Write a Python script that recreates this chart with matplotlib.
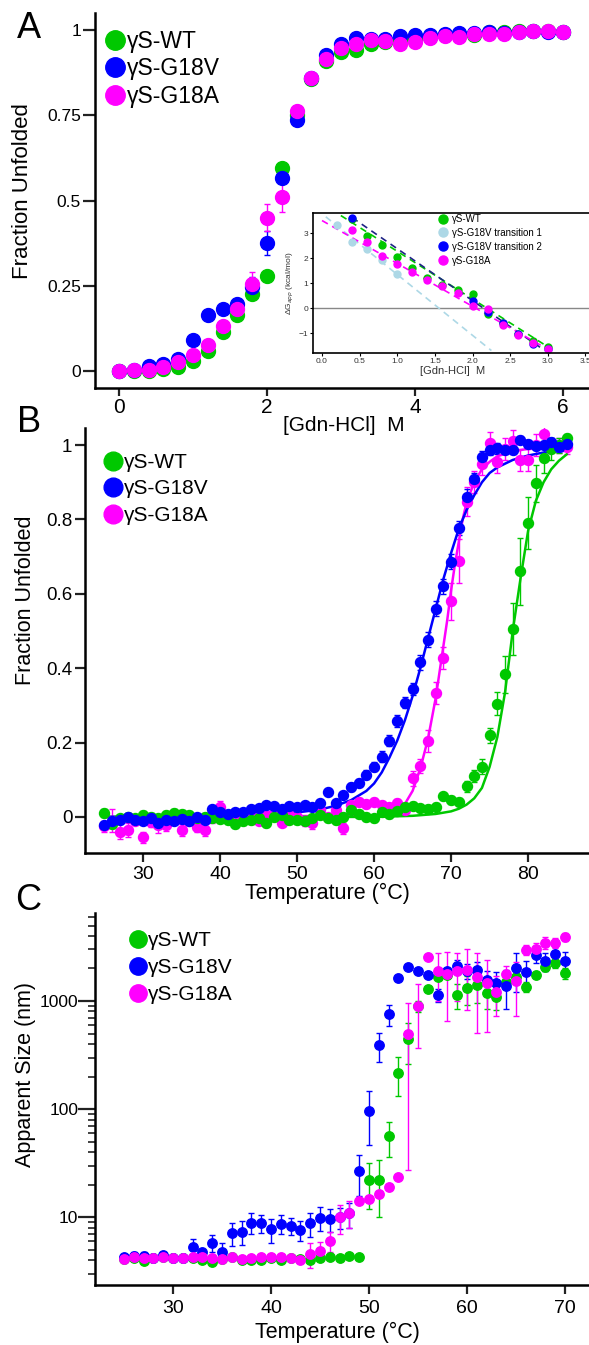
import matplotlib
matplotlib.use("Agg")
from matplotlib import pyplot as plt
from matplotlib.lines import Line2D
from matplotlib.ticker import FixedLocator, LogLocator, NullFormatter

plt.rcParams['font.family'] = ['Liberation Sans', 'DejaVu Sans']

GREEN = '#00c800'
BLUE = '#0000ff'
MAGENTA = '#ff00ff'
LIGHTBLUE = '#add8e6'
NAVY = '#1e2385'

labels = ['γS-WT', 'γS-G18V', 'γS-G18A']

# ---------------- panel A: chemical denaturation ----------------
gdn = [round(0.2 * i, 1) for i in range(31)]
a_wt = [0, 0, 0.0, 0.007, 0.012, 0.03, 0.06, 0.115, 0.164, 0.226, 0.28, 0.594, 0.75, 0.857,
        0.908, 0.936, 0.941, 0.96, 0.966, 0.97, 0.975, 0.98, 0.985, 0.985, 0.987, 0.993,
        0.995, 0.997, 0.998, 0.998, 0.995]
a_v = [0, 0.002, 0.014, 0.02, 0.036, 0.092, 0.164, 0.181, 0.196, 0.246, 0.376, 0.567, 0.737,
       0.86, 0.926, 0.958, 0.977, 0.975, 0.973, 0.982, 0.987, 0.985, 0.99, 0.992, 0.992,
       0.993, 0.992, 0.995, 0.996, 0.995, 0.993]
a_a = [0, 0.002, 0.004, 0.012, 0.027, 0.046, 0.076, 0.132, 0.181, 0.256, 0.45, 0.511, 0.764,
       0.86, 0.916, 0.946, 0.958, 0.97, 0.967, 0.96, 0.964, 0.977, 0.983, 0.98, 0.99, 0.99,
       0.99, 0.995, 0.998, 0.998, 0.995]
a_v_err = [0] * 9 + [0.03, 0.035] + [0] * 20
a_a_err = [0] * 9 + [0.035, 0.04, 0.045] + [0] * 19

# inset: apparent dG vs [Gdn-HCl]
in_wt_x = [0.4, 0.6, 0.8, 1.0, 1.2, 1.4, 1.6, 1.8, 2.0, 2.2, 2.4, 2.6, 2.8, 3.0]
in_wt = [3.57, 2.88, 2.51, 2.05, 1.59, 1.19, 0.92, 0.73, 0.55, -0.22, -0.59, -1.03, -1.32, -1.55]
in_t1_x = [0.2, 0.4, 0.6, 0.8, 1.0]
in_t1 = [3.34, 2.64, 2.38, 1.92, 1.36]
in_t2_x = [0.4, 2.0, 2.2, 2.4, 2.6, 2.8, 3.0]
in_t2 = [3.6, 0.3, -0.16, -0.59, -1.05, -1.43, -1.62]
in_a_x = [0.4, 0.6, 0.8, 1.0, 1.2, 1.4, 1.6, 1.8, 2.0, 2.2, 2.4, 2.6, 2.8, 3.0]
in_a = [3.14, 2.64, 2.07, 1.76, 1.45, 1.12, 0.89, 0.6, 0.1, -0.04, -0.66, -1.06, -1.41, -1.62]
# dashed linear fits (end points)
fit_t1_x, fit_t1 = [0.05, 2.25], [3.65, -1.7]
fit_wt_x, fit_wt = [0.25, 3.0], [3.7, -1.55]
fit_t2_x, fit_t2 = [0.4, 2.95], [3.62, -1.68]
fit_a_x, fit_a = [0.0, 3.0], [3.5, -1.65]

# ---------------- panel B: thermal denaturation ----------------
temp_b = list(range(25, 86))
b_wt = [0.01, -0.02, -0.004, 0.0, -0.004, 0.005, 0.0, -0.004, 0.005, 0.01, 0.008, 0.005, -0.004,
        0.0, -0.004, -0.006, -0.008, -0.019, -0.012, -0.008, -0.004, -0.016, 0.0, 0.005, -0.008,
        -0.008, -0.01, -0.004, 0.005, -0.004, -0.008, 0.0, 0.019, 0.008, 0.0, -0.004, 0.014,
        0.007, 0.017, 0.028, 0.03, 0.023, 0.021, 0.028, 0.055, 0.046, 0.041, 0.082, 0.11, 0.135,
        0.22, 0.305, 0.384, 0.505, 0.661, 0.79, 0.897, 0.965, 0.99, 1.0, 1.02]
b_v = [-0.021, -0.01, -0.008, 0.001, -0.008, -0.01, -0.004, -0.017, -0.008, -0.01, -0.006,
       -0.012, 0.001, -0.008, 0.021, 0.014, 0.008, 0.012, 0.012, 0.021, 0.023, 0.032, 0.03,
       0.021, 0.03, 0.028, 0.032, 0.028, 0.037, 0.068, 0.038, 0.059, 0.081, 0.092, 0.113, 0.135,
       0.162, 0.205, 0.258, 0.307, 0.344, 0.416, 0.476, 0.56, 0.62, 0.686, 0.777, 0.861, 0.91,
       0.969, 0.987, 0.991, 0.988, 0.987, 1.015, 1.004, 0.997, 1.0, 1.009, 0.996, 1.004]
b_a = [-0.025, -0.01, -0.04, -0.035, -0.01, -0.055, -0.013, -0.022, -0.023, -0.008, -0.035,
       -0.01, -0.026, -0.035, 0.0, 0.028, 0.0, -0.005, 0.005, 0.01, -0.01, 0.005, 0.01, -0.015,
       0.005, 0.0, -0.01, -0.017, 0.019, 0.0, 0.019, -0.03, 0.032, 0.041, 0.035, 0.041, 0.032,
       0.028, 0.037, 0.019, 0.104, 0.137, 0.205, 0.334, 0.427, 0.58, 0.688, 0.848, 0.9, 0.95,
       1.005, 0.955, 0.99, 1.01, 0.96, 0.96, 1.0, 1.03, 1.0, 1.0, 0.996]
b_wt_err = [0.01] * 47 + [0.015, 0.015, 0.02, 0.02, 0.03, 0.05, 0.07, 0.09, 0.07, 0.05, 0.04,
                          0.03, 0.02, 0.01]
b_v_err = [0.008] * 32 + [0.01, 0.01, 0.012, 0.012, 0.015, 0.015, 0.015, 0.015, 0.015, 0.02,
                          0.02, 0.02, 0.02, 0.02, 0.02, 0.02, 0.015, 0.015, 0.015, 0.015, 0.01,
                          0.01, 0.01, 0.01, 0.01, 0.01, 0.01, 0.01, 0.01]
b_a_err = [0.015, 0.03, 0.02, 0.02, 0.01, 0.015, 0.015, 0.02, 0.015, 0.01, 0.015, 0.01, 0.015,
           0.015, 0.015, 0.015, 0.01, 0.01, 0.01, 0.01, 0.01, 0.01, 0.01, 0.01, 0.01, 0.01, 0.015,
           0.015, 0.01, 0.01, 0.01, 0.015, 0.01, 0.01, 0.01, 0.01, 0.01, 0.01, 0.01, 0.01, 0.02,
           0.02, 0.03, 0.03, 0.03, 0.05, 0.06, 0.04, 0.03, 0.03, 0.03, 0.03, 0.03, 0.03, 0.03,
           0.03, 0.03, 0.03, 0.02, 0.02, 0.02]
# fitted curves
fit_b_v_t = [25, 40, 45, 50, 53, 55, 57, 59, 60, 61, 62, 63, 64, 65, 66, 67, 68, 69, 70, 71,
             72, 73, 74, 75, 76, 78, 80, 82, 85]
fit_b_v = [0.0, 0.002, 0.005, 0.012, 0.02, 0.03, 0.045, 0.07, 0.09, 0.12, 0.16, 0.205, 0.26,
           0.325, 0.4, 0.48, 0.56, 0.64, 0.71, 0.775, 0.825, 0.865, 0.9, 0.925, 0.94, 0.96,
           0.972, 0.98, 0.985]
fit_b_a_t = [25, 55, 60, 62, 63, 64, 65, 66, 67, 68, 68.5, 69, 69.5, 70, 70.5, 71, 71.5, 72,
             73, 74, 75, 76, 78, 80, 82, 85]
fit_b_a = [0.0, 0.0, 0.004, 0.01, 0.018, 0.035, 0.07, 0.13, 0.21, 0.32, 0.39, 0.46, 0.53, 0.61,
           0.68, 0.74, 0.8, 0.845, 0.9, 0.935, 0.955, 0.97, 0.983, 0.99, 0.994, 0.997]
fit_b_wt_t = [25, 60, 65, 68, 70, 71, 72, 73, 74, 75, 76, 77, 78, 79, 80, 81, 82, 83, 84, 85]
fit_b_wt = [0.0, 0.0, 0.003, 0.008, 0.015, 0.022, 0.033, 0.05, 0.078, 0.135, 0.215, 0.335,
            0.5, 0.64, 0.77, 0.85, 0.9, 0.935, 0.958, 0.975]

# ---------------- panel C: DLS apparent size ----------------
temp_c = list(range(25, 71))
c_wt = [4.1, 4.2, 3.9, 4.2, 4.3, 4.2, 4.2, 4.2, 4.0, 3.8, 4.1, 4.3, 4.0, 4.0, 4.0, 4.2, 4.0,
        4.2, 4.1, 4.0, 4.2, 4.3, 4.2, 4.4, 4.3, 22, 22, 56, 216, 442, 890, 1290, 1660, 1750,
        1140, 1310, 1400, 1190, 1080, 1500, 1680, 1360, 1740, 2050, 2240, 1800]
c_v = [4.3, 4.4, 4.4, 4.2, 4.5, 4.2, 4.2, 5.3, 4.7, 5.8, 4.8, 7.1, 7.3, 8.9, 8.8, 7.7, 8.7,
       8.3, 7.6, 8.8, 9.9, 9.6, 10.0, 10.8, 26.6, 96, 390, 756, 1640, 2050, 1880, 1740, 1130,
       1900, 2110, 1900, 1940, 1580, 1465, 1390, 2010, 1870, 2640, 2330, 2740, 2330]
c_a = [4.1, 4.3, 4.2, 4.2, 4.3, 4.2, 4.2, 4.3, 4.3, 4.2, 4.1, 4.3, 4.1, 4.2, 4.3, 4.3, 4.3,
       4.2, 4.0, 4.6, 4.9, 6.0, 10, 11, 14.2, 14.8, 16.5, 19, 23.3, 497, 908, 2546, 1897, 1760,
       1897, 1925, 1660, 1465, 1220, 1790, 1520, 2990, 3060, 3470, 3470, 3950]
c_wt_err = [0.2] * 25 + [10, 12, 20, 85, 180, 100, 0, 0, 0, 300, 400, 450, 350, 250, 0, 200,
                         150, 0, 150, 200, 200]
c_v_err = [0.3] * 7 + [1, 0, 1, 1, 1.7, 1.8, 2, 1.7, 1.9, 1.7, 1.5, 1.6, 2.2, 2.5, 2.3, 2.2,
                       2.8, 11, 50, 120, 170, 0, 0, 0, 0, 150, 0, 300, 300, 350, 300, 400, 550,
                       800, 500, 400, 450, 400, 500]
c_a_err = [0.2] * 19 + [1.2, 1.0, 1.2, 3, 3, 1, 1, 0, 0, 0, 470, 540, 0, 900, 1100, 900, 1100,
                        1150, 950, 500, 300, 800, 300, 400, 450, 400, 350]

fig = plt.figure(figsize=(5.89, 13.45), dpi=100)


def style_axes(ax):
    ax.patch.set_visible(False)
    for s in ['top', 'right']:
        ax.spines[s].set_visible(False)
    for s in ['left', 'bottom']:
        ax.spines[s].set_linewidth(1.8)
    ax.tick_params(which='both', direction='out', width=1.6, color='#222222')


def add_legend(ax, x, y, fs, ms, hl, sp):
    handles = [Line2D([], [], marker='o', ls='none', color=c, markersize=ms)
               for c in (GREEN, BLUE, MAGENTA)]
    ax.legend(handles, labels, loc='upper left', bbox_to_anchor=(x, y),
              bbox_transform=fig.transFigure, frameon=False, fontsize=fs,
              handlelength=hl, handletextpad=0.05, borderpad=0, borderaxespad=0,
              labelspacing=sp)


# ---- A
axA = fig.add_axes([0.1613, 0.7115, 0.8387, 0.2788])
style_axes(axA)
for y, e, c in [(a_wt, None, GREEN), (a_v, a_v_err, BLUE), (a_a, a_a_err, MAGENTA)]:
    axA.errorbar(gdn, y, yerr=e, fmt='o', color=c, markersize=10, elinewidth=1,
                 capsize=2, capthick=1, clip_on=False)
axA.set_xlim(-0.324, 6.35)
axA.set_ylim(-0.05, 1.05)
axA.set_xticks([0, 2, 4, 6])
axA.set_yticks([0, 0.25, 0.5, 0.75, 1])
axA.set_yticklabels(['0', '0.25', '0.5', '0.75', '1'])
axA.tick_params(axis='y', length=9, labelsize=12.5, pad=1)
axA.tick_params(axis='x', length=6, labelsize=15, pad=1)
axA.set_ylabel('Fraction Unfolded', fontsize=16)
axA.yaxis.set_label_coords(-0.126, 0.525)
axA.set_xlabel('[Gdn-HCl]  M', fontsize=15)
axA.xaxis.set_label_coords(0.504, -0.075)
add_legend(axA, 0.178, 0.978, 16.5, 14, 0.9, 0.2)
fig.text(0.049, 1 - 29 / 1345, 'A', fontsize=26, ha='center', va='center')

# ---- inset
axI = fig.add_axes([0.5314, 0.7375, 0.4754, 0.1041])
axI.set_facecolor('white')
for s in axI.spines.values():
    s.set_linewidth(1.2)
axI.axhline(0, color='#888888', lw=1, zorder=1)
axI.plot(fit_t1_x, fit_t1, ls=(0, (4, 3)), color=LIGHTBLUE, lw=1.2)
axI.plot(fit_wt_x, fit_wt, ls=(0, (4, 3)), color=GREEN, lw=1.2)
axI.plot(fit_t2_x, fit_t2, ls=(0, (4, 3)), color=NAVY, lw=1.2)
axI.plot(fit_a_x, fit_a, ls=(0, (4, 3)), color=MAGENTA, lw=1.2)
axI.plot(in_wt_x, in_wt, 'o', color=GREEN, markersize=5, label='γS-WT')
axI.plot(in_t1_x, in_t1, 'o', color=LIGHTBLUE, markersize=5, label='γS-G18V transition 1')
axI.plot(in_t2_x, in_t2, 'o', color=BLUE, markersize=5, label='γS-G18V transition 2')
axI.plot(in_a_x, in_a, 'o', color=MAGENTA, markersize=5, label='γS-G18A')
axI.set_xlim(-0.12, 3.6)
axI.set_ylim(-1.8, 3.8)
axI.set_xticks([0, 0.5, 1, 1.5, 2, 2.5, 3, 3.5])
axI.set_xticklabels(['0.0', '0.5', '1.0', '1.5', '2.0', '2.5', '3.0', '3.5'])
axI.set_yticks([-1, 0, 1, 2, 3])
axI.set_yticklabels(['−1', '0', '1', '2', '3'])
axI.tick_params(labelsize=6, length=2, width=0.8, pad=1.5, labelcolor='#333333')
axI.set_xlabel('[Gdn-HCl]  M', fontsize=8, labelpad=1, color='#333333')
axI.set_ylabel('ΔG$_{app}$ (kcal/mol)', fontsize=6, labelpad=2, color='#333333')
axI.legend(loc='upper left', bbox_to_anchor=(0.7445, 0.8409), bbox_transform=fig.transFigure,
           frameon=False, fontsize=7, markerscale=1.3, handlelength=1.0, handletextpad=0.35,
           borderpad=0, borderaxespad=0, labelspacing=0.4)

# ---- B
axB = fig.add_axes([0.1443, 0.3658, 0.8557, 0.316])
style_axes(axB)
axB.errorbar(temp_b, b_a, yerr=b_a_err, fmt='o', color=MAGENTA, markersize=7.2, elinewidth=1,
             capsize=2.2, capthick=1)
axB.errorbar(temp_b, b_wt, yerr=b_wt_err, fmt='o', color=GREEN, markersize=7.2, elinewidth=1,
             capsize=2.2, capthick=1)
axB.errorbar(temp_b, b_v, yerr=b_v_err, fmt='o', color=BLUE, markersize=7.2, elinewidth=1,
             capsize=2.2, capthick=1)
axB.plot(fit_b_a_t, fit_b_a, color=MAGENTA, lw=1.8)
axB.plot(fit_b_wt_t, fit_b_wt, color=GREEN, lw=1.8)
axB.plot(fit_b_v_t, fit_b_v, color=BLUE, lw=1.8)
axB.set_xlim(22.47, 87.9)
axB.set_ylim(-0.097, 1.046)
axB.set_xticks([30, 40, 50, 60, 70, 80])
axB.set_yticks([0, 0.2, 0.4, 0.6, 0.8, 1])
axB.set_yticklabels(['0', '0.2', '0.4', '0.6', '0.8', '1'])
axB.tick_params(axis='y', length=7, labelsize=13.5, pad=2)
axB.tick_params(axis='x', length=6.5, labelsize=14, pad=3)
axB.set_ylabel('Fraction Unfolded', fontsize=15.5)
axB.yaxis.set_label_coords(-0.097, 0.595)
axB.set_xlabel('Temperature (°C)', fontsize=15.5)
axB.xaxis.set_label_coords(0.482, -0.07)
add_legend(axB, 0.1757, 0.6632, 15, 13.5, 0.92, 0.36)
fig.text(0.049, 1 - 423 / 1345, 'B', fontsize=26, ha='center', va='center')

# ---- C
axC = fig.add_axes([0.1613, 0.0446, 0.8387, 0.2766])
style_axes(axC)
axC.set_yscale('log')
axC.errorbar(temp_c, c_wt, yerr=c_wt_err, fmt='o', color=GREEN, markersize=6.8, elinewidth=1,
             capsize=2.2, capthick=1)
axC.errorbar(temp_c, c_v, yerr=c_v_err, fmt='o', color=BLUE, markersize=6.8, elinewidth=1,
             capsize=2.2, capthick=1)
axC.errorbar(temp_c, c_a, yerr=c_a_err, fmt='o', color=MAGENTA, markersize=6.8, elinewidth=1,
             capsize=2.2, capthick=1)
axC.set_xlim(22.04, 72.45)
axC.set_ylim(2.35, 6530)
axC.set_xticks([30, 40, 50, 60, 70])
axC.yaxis.set_major_locator(FixedLocator([10, 100, 1000]))
axC.set_yticklabels(['10', '100', '1000'])
axC.yaxis.set_minor_locator(LogLocator(base=10, subs=(2, 3, 4, 5, 6, 7, 8, 9)))
axC.yaxis.set_minor_formatter(NullFormatter())
axC.tick_params(axis='y', which='major', length=12, labelsize=12.5, pad=0)
axC.tick_params(axis='y', which='minor', length=5, width=1.2)
axC.tick_params(axis='x', length=6.5, labelsize=14, pad=4)
axC.set_ylabel('Apparent Size (nm)', fontsize=15.5)
axC.yaxis.set_label_coords(-0.119, 0.565)
axC.set_xlabel('Temperature (°C)', fontsize=15.5)
axC.xaxis.set_label_coords(0.49, -0.1)
add_legend(axC, 0.2199, 0.3078, 15, 12.5, 0.85, 0.39)
fig.text(0.048, 1 - 901 / 1345, 'C', fontsize=26, ha='center', va='center')

fig.savefig('out.png', dpi=100)
